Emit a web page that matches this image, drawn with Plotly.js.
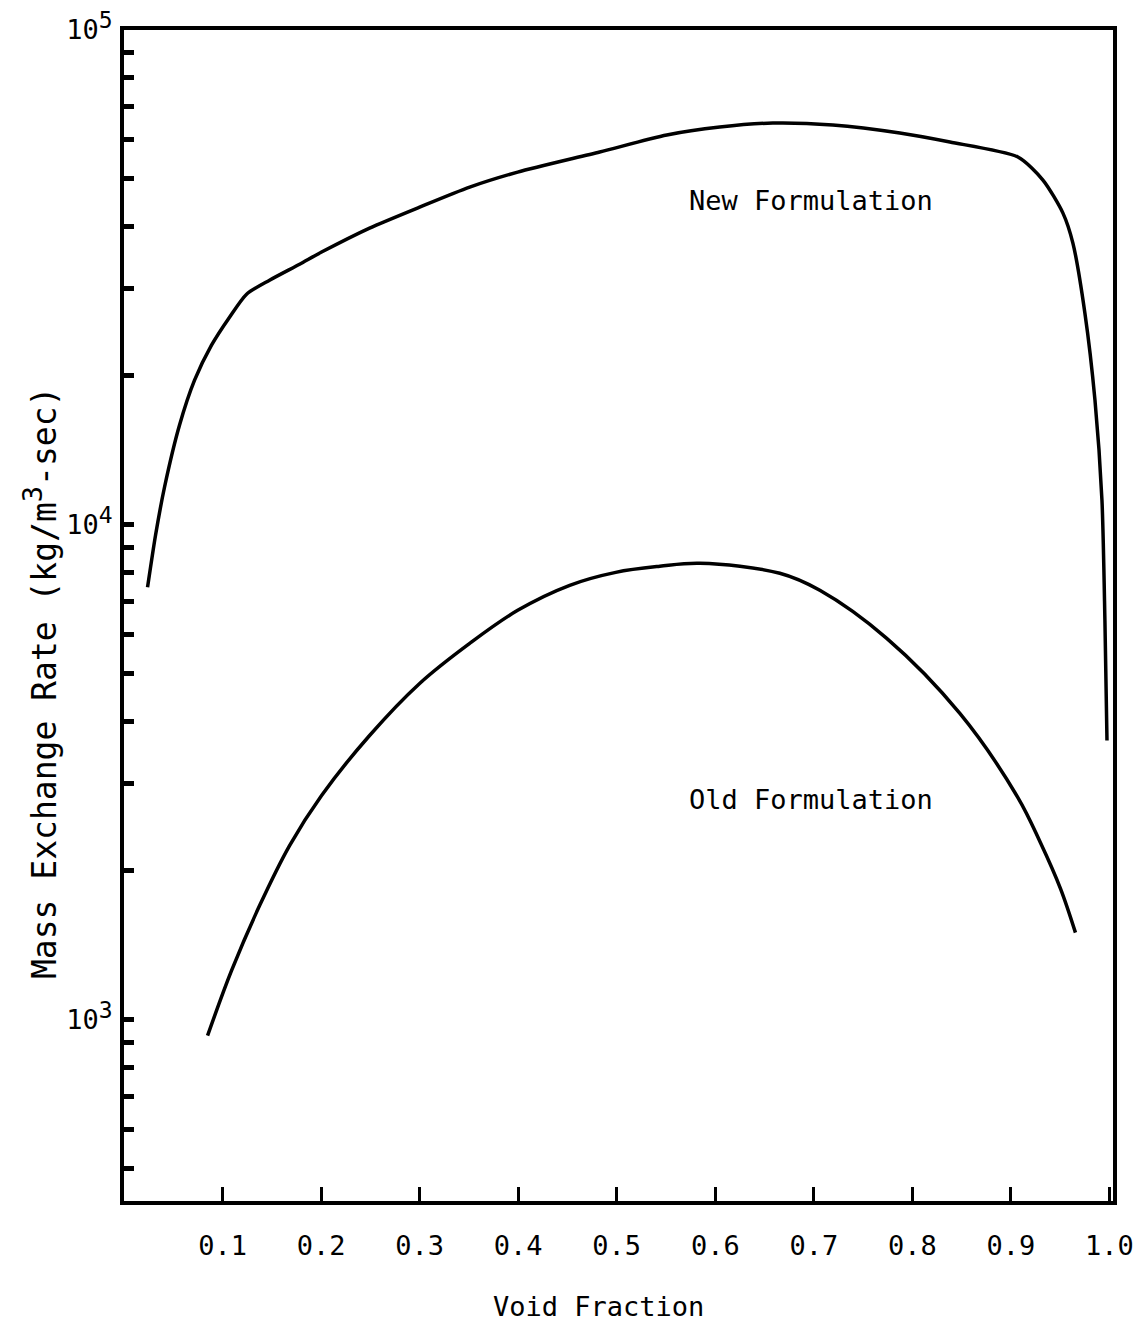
<!DOCTYPE html>
<html>
<head>
<meta charset="utf-8">
<script src="https://cdn.plot.ly/plotly-3.0.1.min.js"></script>
<style>
  html, body { margin: 0; padding: 0; background: #ffffff; }
  #chart { width: 1136px; height: 1325px; }
</style>
</head>
<body>
<div id="chart"></div>
<script>
// Void fraction vs. mass exchange rate, new and old interfacial formulations
const newVoid = [0.0239, 0.0320, 0.0411, 0.0563, 0.0716, 0.0888, 0.1071, 0.1244, 0.1477, 0.1782,
                 0.2005, 0.2492, 0.300, 0.3508, 0.3995, 0.4827, 0.5508, 0.6046, 0.6584,
                 0.7193, 0.7873, 0.8381, 0.9071, 0.9325, 0.9528, 0.9629, 0.9751, 0.9853, 0.9924,
                 0.9954, 0.9975];
const newRate = [7475, 9524, 11910, 15890, 19600, 23070, 26280, 29250, 31220, 33630,
                 35580, 39780, 43860, 48140, 51620, 56680, 61350, 63650, 64850,
                 64260, 61910, 59360, 55360, 49740, 42650, 37100, 26780, 17860, 11210,
                 6411, 3666];

const oldVoid = [0.0848, 0.1091, 0.1376, 0.168, 0.2005, 0.2492, 0.300, 0.3508, 0.3995, 0.4523,
                 0.499, 0.5437, 0.5843, 0.6655, 0.7061, 0.774, 0.8482, 0.9071, 0.9299,
                 0.9503, 0.9655];
const oldRate = [928, 1256, 1700, 2248, 2838, 3752, 4780, 5760, 6717, 7547,
                 8016, 8245, 8360, 7980, 7372, 5895, 4157, 2811, 2280,
                 1840, 1499];

const xTickVals = [0.1, 0.2, 0.3, 0.4, 0.5, 0.6, 0.7, 0.8, 0.9, 1.0];
const xTickText = ['0.1', '0.2', '0.3', '0.4', '0.5', '0.6', '0.7', '0.8', '0.9', '1.0'];

const yDecadeVals = [1000, 10000, 100000];
const yDecadeExps = ['3', '4', '5'];
const yMinorVals = [500, 600, 700, 800, 900,
                    2000, 3000, 4000, 5000, 6000, 7000, 8000, 9000,
                    20000, 30000, 40000, 50000, 60000, 70000, 80000, 90000];

const seriesLabels = ['New Formulation', 'Old Formulation'];

const FONT = '"DejaVu Sans Mono", "Liberation Mono", monospace';

const traces = [
  { x: newVoid, y: newRate, type: 'scatter', mode: 'lines', name: seriesLabels[0],
    line: { color: '#000000', width: 3.5, shape: 'spline', smoothing: 0.7 }, hoverinfo: 'x+y' },
  { x: oldVoid, y: oldRate, type: 'scatter', mode: 'lines', name: seriesLabels[1],
    line: { color: '#000000', width: 3.5, shape: 'spline', smoothing: 1 }, hoverinfo: 'x+y' }
];

const layout = {
  width: 1136,
  height: 1325,
  margin: { l: 124, r: 23, t: 30, b: 124 },
  paper_bgcolor: '#ffffff',
  plot_bgcolor: '#ffffff',
  showlegend: false,
  font: { family: FONT, size: 27, color: '#000000' },
  xaxis: {
    range: [0, 1.0036],
    tickmode: 'array',
    tickvals: xTickVals,
    ticktext: xTickText,
    ticks: 'inside',
    ticklen: 14,
    tickwidth: 3,
    tickcolor: '#000000',
    ticklabelstandoff: 18,
    tickfont: { family: FONT, size: 27, color: '#000000' },
    showline: true,
    linewidth: 4,
    linecolor: '#000000',
    mirror: true,
    showgrid: false,
    zeroline: false
  },
  yaxis: {
    type: 'log',
    range: [Math.log10(430), 5],
    tickmode: 'array',
    tickvals: yDecadeVals,
    ticktext: yDecadeExps.map(e => '10<sup><span style="font-size:23px">' + e + '</span></sup>'),
    ticks: 'inside',
    ticklen: 10,
    tickwidth: 5,
    tickcolor: '#000000',
    ticklabelstandoff: 2,
    tickfont: { family: FONT, size: 27, color: '#000000' },
    minor: {
      tickmode: 'array',
      tickvals: yMinorVals,
      ticks: 'inside',
      ticklen: 10,
      tickwidth: 5,
      tickcolor: '#000000',
      showgrid: false
    },
    showline: true,
    linewidth: 4,
    linecolor: '#000000',
    mirror: true,
    showgrid: false,
    zeroline: false
  },
  annotations: [
    { text: seriesLabels[0], xref: 'x', yref: 'y', x: 0.697, y: 4.656, showarrow: false,
      xanchor: 'center', yanchor: 'middle', font: { family: FONT, size: 27, color: '#000000' } },
    { text: seriesLabels[1], xref: 'x', yref: 'y', x: 0.697, y: 3.445, showarrow: false,
      xanchor: 'center', yanchor: 'middle', font: { family: FONT, size: 27, color: '#000000' } },
    { text: 'Void Fraction', xref: 'paper', yref: 'paper', x: 0.4793, y: -0.0905, showarrow: false,
      xanchor: 'center', yanchor: 'middle', font: { family: FONT, size: 27, color: '#000000' } },
    { text: 'Mass Exchange Rate (kg/m<sup><span style="font-size:27px">3</span></sup>-sec)', xref: 'paper', yref: 'paper',
      x: -0.085, y: 0.4423, textangle: -90, showarrow: false,
      xanchor: 'center', yanchor: 'middle', font: { family: FONT, size: 33, color: '#000000' } }
  ]
};

Plotly.newPlot('chart', traces, layout, { staticPlot: true, displayModeBar: false });
</script>
</body>
</html>
